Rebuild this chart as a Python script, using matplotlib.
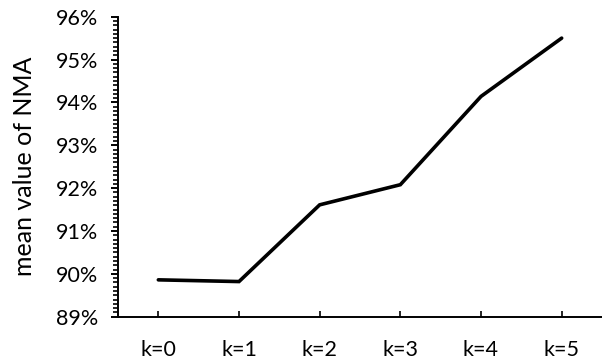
import matplotlib
matplotlib.use("Agg")
import matplotlib.pyplot as plt
from matplotlib.ticker import MultipleLocator, FuncFormatter

categories = ["k=0", "k=1", "k=2", "k=3", "k=4", "k=5"]
nma_mean = [89.86, 89.82, 91.61, 92.08, 94.14, 95.50]

plt.rcParams['font.family'] = ['Lato', 'DejaVu Sans']

fig = plt.figure(figsize=(6.02, 3.61), dpi=100)
ax = fig.add_axes([118/602, 44.3/361, (602-118)/602, 300/361])

x = list(range(len(categories)))
ax.plot(x, nma_mean, color='black', linewidth=2.6, solid_capstyle='round', solid_joinstyle='miter')

ax.set_xlim(-0.5, len(categories) - 0.5)
ax.set_ylim(89, 96)
ax.set_xticks(x)
ax.set_xticklabels(categories)
ax.yaxis.set_major_locator(MultipleLocator(1))
ax.yaxis.set_minor_locator(MultipleLocator(0.1))
ax.yaxis.set_major_formatter(FuncFormatter(lambda v, p: f"{v:.0f}%"))

for s in ['top', 'right']:
    ax.spines[s].set_visible(False)
for s in ['left', 'bottom']:
    ax.spines[s].set_linewidth(1.4)
    ax.spines[s].set_color('black')

ax.tick_params(axis='y', which='major', direction='out', length=5, width=1.4, labelsize=15.5, pad=9)
ax.tick_params(axis='y', which='minor', direction='out', length=3.5, width=1.2)
ax.tick_params(axis='x', which='major', direction='in', length=4, width=1.2, labelsize=15.5, pad=16.5)

ax.set_ylabel("mean value of NMA", fontsize=18)
ax.yaxis.set_label_coords(-0.17, 0.5)

fig.savefig("out.png", dpi=100)
